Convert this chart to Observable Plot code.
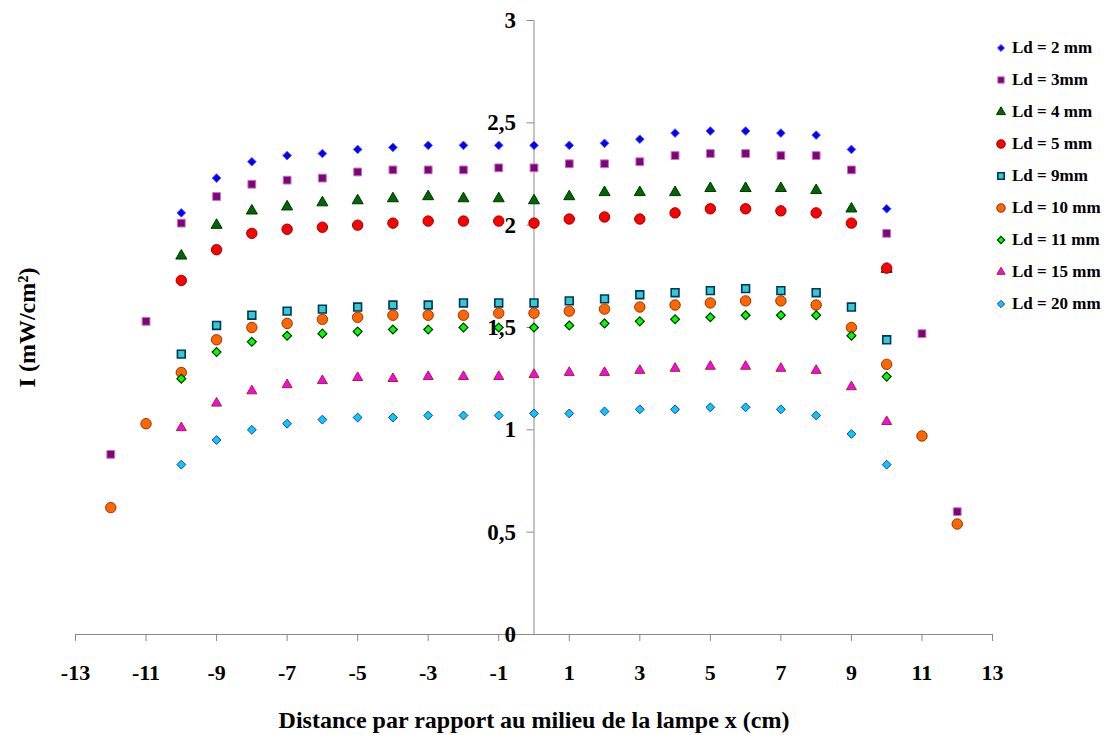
<!DOCTYPE html>
<html><head><meta charset="utf-8">
<script src="https://cdn.jsdelivr.net/npm/d3@7"></script>
<script src="https://cdn.jsdelivr.net/npm/@observablehq/plot@0.6"></script>
<style>
body{margin:0;background:#fff;}
#wrap{position:relative;width:1104px;height:735px;font-family:"Liberation Serif","Times New Roman",serif;}
#legend{position:absolute;left:992px;top:32px;}
.row{display:flex;align-items:center;height:32px;font-weight:bold;font-size:17px;color:#000;white-space:nowrap;}
.row svg{width:18px;height:14px;margin-right:2px;flex:none;}
</style></head><body><div id="wrap"><div id="legend"></div></div>
<script>
// x positions (cm)
const xShort = [-10,-9,-8,-7,-6,-5,-4,-3,-2,-1,0,1,2,3,4,5,6,7,8,9,10];
const xLong = [-12,-11,-10,-9,-8,-7,-6,-5,-4,-3,-2,-1,0,1,2,3,4,5,6,7,8,9,10,11,12];
// tick values
const xTicks = [-13,-11,-9,-7,-5,-3,-1,1,3,5,7,9,11,13];
const yTicks = [0,0.5,1,1.5,2,2.5,3];
// series labels
const labels = ["Ld = 2 mm","Ld = 3mm","Ld = 4 mm","Ld = 5 mm","Ld = 9mm","Ld = 10 mm","Ld = 11 mm","Ld = 15 mm","Ld = 20 mm"];
// values I (mW/cm2)
const ld2  = [2.06,2.23,2.31,2.34,2.35,2.37,2.38,2.39,2.39,2.39,2.39,2.39,2.40,2.42,2.45,2.46,2.46,2.45,2.44,2.37,2.08];
const ld3  = [0.88,1.53,2.01,2.14,2.20,2.22,2.23,2.26,2.27,2.27,2.27,2.28,2.28,2.30,2.30,2.31,2.34,2.35,2.35,2.34,2.34,2.27,1.96,1.47,0.60];
const ld4  = [1.85,2.00,2.07,2.09,2.11,2.12,2.13,2.14,2.13,2.13,2.12,2.14,2.16,2.16,2.16,2.18,2.18,2.18,2.17,2.08,1.785];
const ld5  = [1.73,1.88,1.96,1.98,1.99,2.00,2.01,2.02,2.02,2.02,2.01,2.03,2.04,2.03,2.06,2.08,2.08,2.07,2.06,2.01,1.79];
const ld9  = [1.37,1.51,1.56,1.58,1.59,1.60,1.61,1.61,1.62,1.62,1.62,1.63,1.64,1.66,1.67,1.68,1.69,1.68,1.67,1.60,1.44];
const ld10 = [0.62,1.03,1.28,1.44,1.50,1.52,1.54,1.55,1.56,1.56,1.56,1.57,1.57,1.58,1.59,1.60,1.61,1.62,1.63,1.63,1.61,1.50,1.32,0.97,0.54];
const ld11 = [1.25,1.38,1.43,1.46,1.47,1.48,1.49,1.49,1.50,1.50,1.50,1.51,1.52,1.53,1.54,1.55,1.56,1.56,1.56,1.46,1.26];
const ld15 = [1.01,1.13,1.19,1.22,1.24,1.255,1.25,1.26,1.26,1.26,1.27,1.28,1.28,1.29,1.30,1.31,1.31,1.30,1.29,1.21,1.04];
const ld20 = [0.83,0.95,1.00,1.03,1.05,1.06,1.06,1.07,1.07,1.07,1.08,1.08,1.09,1.10,1.10,1.11,1.11,1.10,1.07,0.98,0.83];

const seriesX = [xShort, xLong, xShort, xShort, xShort, xLong, xShort, xShort, xShort];
const seriesY = [ld2, ld3, ld4, ld5, ld9, ld10, ld11, ld15, ld20];

const styles = [
  {symbol:"diamond2", fill:"#0000ff", stroke:"#5a5ad8", r:3.9, sw:1},
  {symbol:"square",   fill:"#800080", stroke:"#c07ab0", r:4.4, sw:1},
  {symbol:"triangle", fill:"#006600", stroke:"#003300", r:4.1, sw:1},
  {symbol:"circle",   fill:"#ff0000", stroke:"#990000", r:5.2, sw:1},
  {symbol:"square",   fill:"#33cccc", stroke:"#003366", r:4.4, sw:1.6},
  {symbol:"circle",   fill:"#ff6600", stroke:"#993300", r:5.2, sw:1},
  {symbol:"diamond2", fill:"#00ff00", stroke:"#003300", r:4.0, sw:1.2},
  {symbol:"triangle", fill:"#ff00ff", stroke:"#993300", r:3.7, sw:1},
  {symbol:"diamond2", fill:"#00ccff", stroke:"#333399", r:4.0, sw:1}
];

const font = {fontFamily:"Liberation Serif, Times New Roman, serif", fontWeight:"bold", fill:"#000"};
const axisColor = "#888";

const dotMarks = seriesY.map((ys, i) => {
  const st = styles[i];
  const rows = ys.map((v, j) => ({x: seriesX[i][j], y: v}));
  return Plot.dot(rows, {x:"x", y:"y", symbol: st.symbol, r: st.r, fill: st.fill, stroke: st.stroke, strokeWidth: st.sw});
});

const chart = Plot.plot({
  width: 1104, height: 735,
  marginLeft: 75, marginRight: 112, marginTop: 20, marginBottom: 101,
  style: {fontFamily: "Liberation Serif, Times New Roman, serif", background: "#fff"},
  x: {domain: [-13, 13], axis: null},
  y: {domain: [0, 3], axis: null},
  marks: [
    Plot.ruleY([0], {stroke: axisColor}),
    Plot.ruleX([0], {stroke: axisColor}),
    Plot.ruleX(xTicks, {y1: 0, y2: 0, insetBottom: -7, stroke: axisColor}),
    Plot.ruleY(yTicks, {x1: 0, x2: 0, insetLeft: -7, stroke: axisColor}),
    Plot.text(xTicks, {x: d => d, y: 0, dy: 38, text: d => String(d), fontSize: 22, ...font}),
    Plot.text(yTicks, {x: 0, y: d => d, dx: -18, textAnchor: "end", text: d => String(d).replace(".", ","), fontSize: 23, ...font}),
    Plot.text(["Distance par rapport au milieu de la lampe x (cm)"], {frameAnchor: "bottom", dy: 86, lineAnchor: "middle", textAnchor: "middle", fontSize: 24, ...font}),
    Plot.text(["I (mW/cm\u00b2)"], {frameAnchor: "left", dx: -48, rotate: -90, textAnchor: "middle", lineAnchor: "middle", fontSize: 24, ...font}),
    ...dotMarks
  ]
});
document.getElementById("wrap").prepend(chart);

// legend
const legend = document.getElementById("legend");
const symMap = {diamond2: d3.symbolDiamond2, square: d3.symbolSquare, triangle: d3.symbolTriangle, circle: d3.symbolCircle};
labels.forEach((lab, i) => {
  const st = styles[i];
  const row = document.createElement("div");
  row.className = "row";
  const svg = d3.create("svg").attr("viewBox", "-9 -7 18 14");
  const rr = st.r * 0.82;
  svg.append("path").attr("d", d3.symbol(symMap[st.symbol], Math.PI * rr * rr)())
    .attr("fill", st.fill).attr("stroke", st.stroke).attr("stroke-width", st.sw);
  row.appendChild(svg.node());
  const span = document.createElement("span");
  span.textContent = lab;
  row.appendChild(span);
  legend.appendChild(row);
});
</script>
</body></html>
